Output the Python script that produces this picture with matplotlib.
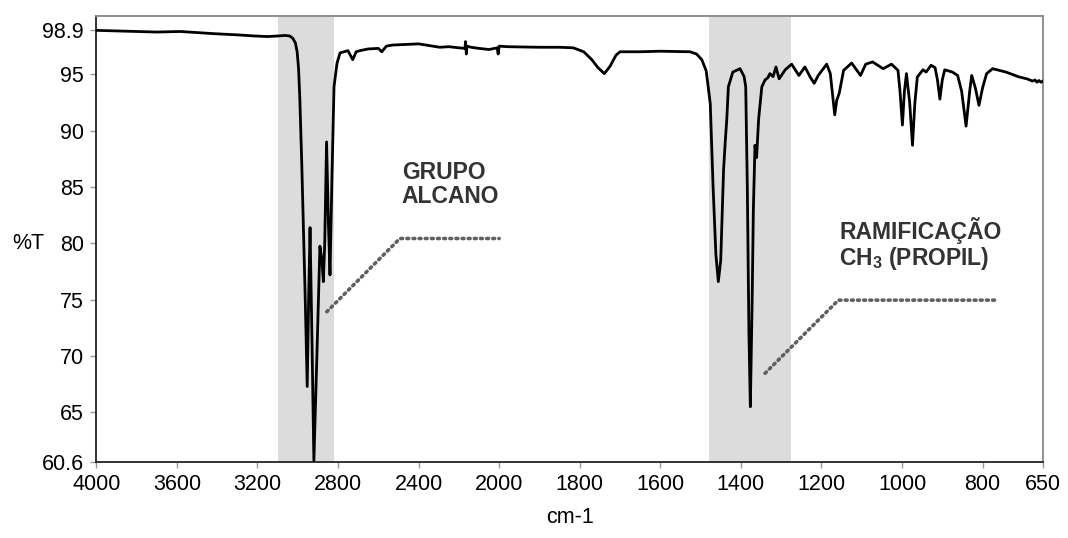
import numpy as np
import matplotlib
matplotlib.use("Agg")
import matplotlib.pyplot as plt

plt.rcParams["font.family"] = ["Liberation Sans", "DejaVu Sans"]
plt.rcParams["mathtext.fontset"] = "custom"
plt.rcParams["mathtext.rm"] = "Liberation Sans"
plt.rcParams["mathtext.bf"] = "Liberation Sans:bold"

# IR spectrum: wavenumber (cm-1) and %T
wavenumber = [4000, 3900, 3800, 3700, 3583, 3500, 3410, 3300, 3213, 3150, 3100, 3063,
              3040, 3025, 3012, 3003, 2996, 2990, 2986, 2980, 2964, 2953, 2946, 2939,
              2929, 2920, 2905, 2890, 2880, 2873, 2866, 2857, 2848, 2840, 2830, 2820,
              2805, 2790, 2751, 2727, 2710, 2691, 2650, 2600, 2583, 2560, 2527, 2400,
              2295, 2250, 2200, 2170, 2167, 2163, 2160, 2140, 2100, 2050, 2010, 2005,
              2000, 1980, 1900, 1850, 1816, 1790, 1770, 1755, 1739, 1725, 1710, 1700,
              1650, 1600, 1526, 1510, 1497, 1486, 1476, 1469, 1462, 1456, 1450, 1446,
              1443, 1439, 1435, 1431, 1420, 1402, 1392, 1388, 1384, 1380, 1376.5, 1372,
              1369, 1365, 1361, 1356, 1348, 1340, 1333, 1328, 1320, 1313, 1305, 1290,
              1274, 1256, 1241, 1228, 1218, 1208, 1187, 1178, 1167, 1162, 1156, 1145,
              1125, 1103, 1090, 1073, 1047, 1026, 1010, 1005, 999, 994, 989, 981,
              974, 968, 962, 948, 940, 928, 918, 912, 906, 900, 894, 875,
              862, 852, 841, 832, 827, 818, 809, 800, 790, 775, 742, 709,
              690, 676, 670, 665, 660, 655, 650]
transmittance = [98.9, 98.85, 98.8, 98.75, 98.8, 98.7, 98.6, 98.5, 98.4, 98.35, 98.4, 98.45,
                 98.4, 98.2, 97.8, 97.0, 95.5, 93.0, 90.5, 87.0, 75.9, 67.3, 75.0, 81.4,
                 71.0, 60.7, 70.0, 79.75, 78.5, 76.6, 80.0, 89.0, 82.0, 77.2, 86.0, 93.9,
                 96.0, 96.9, 97.1, 96.3, 97.0, 97.1, 97.25, 97.3, 97.0, 97.5, 97.6, 97.7,
                 97.4, 97.45, 97.35, 97.3, 97.9, 96.8, 97.5, 97.4, 97.3, 97.2, 97.35, 96.8,
                 97.5, 97.45, 97.4, 97.4, 97.35, 97.0, 96.3, 95.6, 95.06, 95.7, 96.7, 97.0,
                 97.0, 97.05, 97.0, 96.8, 96.3, 95.3, 92.4, 85.0, 79.0, 76.6, 78.5, 83.0,
                 86.5, 88.9, 91.0, 93.9, 95.2, 95.5, 94.8, 93.9, 85.0, 72.0, 65.5, 75.0,
                 83.0, 88.7, 87.6, 91.0, 93.9, 94.5, 94.7, 95.06, 94.8, 95.65, 94.6, 95.4,
                 95.9, 94.9, 95.65, 94.76, 94.2, 94.9, 95.9, 95.06, 91.4, 92.7, 93.3, 95.35,
                 96.0, 94.9, 95.9, 96.1, 95.5, 95.9, 95.35, 93.5, 90.5, 93.5, 95.06, 92.5,
                 88.7, 92.5, 94.76, 95.4, 95.2, 95.8, 95.6, 94.5, 92.8, 94.5, 95.4, 95.2,
                 94.9, 93.5, 90.4, 93.5, 94.9, 93.8, 92.25, 93.8, 95.06, 95.5, 95.2, 94.76,
                 94.6, 94.4, 94.5, 94.3, 94.45, 94.3, 94.4]

# highlighted bands (cm-1)
bands = [(3100, 2820), (1480, 1275)]

# annotations: text, anchor of text, leader line points
labels = ["GRUPO\nALCANO", "RAMIFICAÇÃO\nCH$_{\\mathbf{3}}$ (PROPIL)"]
label_pos = [(2484, 83.56), (1156, 78.07)]
leader_x = [[2856, 2493, 2000], [1340, 1158, 769]]
leader_y = [[73.93, 80.43, 80.43], [68.47, 74.96, 74.96]]

xticks = [4000, 3600, 3200, 2800, 2400, 2000, 1800, 1600, 1400, 1200, 1000, 800, 650]
yticks = [60.6, 65, 70, 75, 80, 85, 90, 95, 98.9]
ytick_labels = ["60.6", "65", "70", "75", "80", "85", "90", "95", "98.9"]


# axis is compressed 2x above 2000 cm-1
def fwd(w):
    w = np.asarray(w, dtype=float)
    return np.where(w >= 2000, w / 2.0, w - 1000.0)


def inv(u):
    u = np.asarray(u, dtype=float)
    return np.where(u >= 1000, u * 2.0, u + 1000.0)


fig = plt.figure(figsize=(10.68, 5.38), dpi=100)
ax = fig.add_axes([0.0902, 0.1413, 0.8864, 0.8295])
ax.set_xscale("function", functions=(fwd, inv))

for lo, hi in bands:
    ax.axvspan(lo, hi, color="#dcdcdc", lw=0, zorder=0)

ax.plot(wavenumber, transmittance, color="black", lw=2.0, solid_joinstyle="round", zorder=3)

for txt, (tx, ty), lx, ly in zip(labels, label_pos, leader_x, leader_y):
    ax.plot(lx, ly, color="#606060", lw=2.6, linestyle=(0, (0.5, 1.2)),
            dash_capstyle="round", zorder=2)
    ax.text(tx, ty, txt, fontsize=16.5, fontweight="bold", color="#333333",
            ha="left", va="baseline", linespacing=1.05)

ax.set_xlim(4000, 650)
ax.set_ylim(60.6, 100.2)
ax.set_xticks(xticks)
ax.set_xticklabels([str(t) for t in xticks])
ax.xaxis.set_minor_locator(plt.NullLocator())
ax.set_yticks(yticks)
ax.set_yticklabels(ytick_labels)
ax.tick_params(axis="both", labelsize=15.5, color="#999999", length=4, width=1, pad=5)

ax.set_xlabel("cm-1", fontsize=15.5, labelpad=8)
ax.set_ylabel("%T", fontsize=15.5, rotation=0, va="center", ha="center")
ax.yaxis.set_label_coords(-0.072, 0.49)

for side in ["left", "bottom"]:
    ax.spines[side].set_color("#222222")
    ax.spines[side].set_linewidth(1.3)
for side in ["top", "right"]:
    ax.spines[side].set_color("#888888")
    ax.spines[side].set_linewidth(1.3)

fig.savefig("out.png", dpi=100)
